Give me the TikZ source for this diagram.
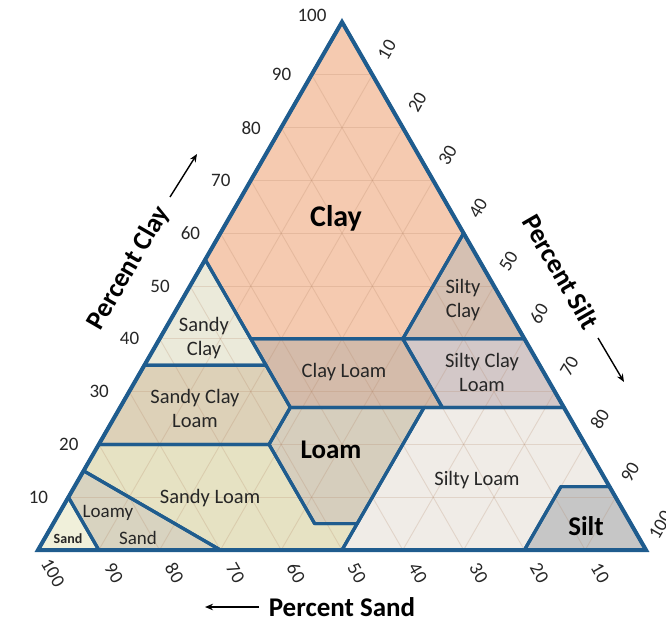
\documentclass[tikz,border=0pt]{standalone}
\usepackage{fontspec}
\setmainfont{Carlito}
\usetikzlibrary{arrows.meta}
\definecolor{bord}{HTML}{1F5C8E}
\definecolor{cClay}{HTML}{F5CAB0}
\definecolor{cSandyClay}{HTML}{EBEADA}
\definecolor{cSiltyClay}{HTML}{D5C0B2}
\definecolor{cClayLoam}{HTML}{D4BBAA}
\definecolor{cSiltyClayLoam}{HTML}{D3C8C8}
\definecolor{cSandyClayLoam}{HTML}{DDD1B8}
\definecolor{cLoam}{HTML}{D6CEBD}
\definecolor{cSandyLoam}{HTML}{E6E2C3}
\definecolor{cLoamySand}{HTML}{D8D3C0}
\definecolor{cSand}{HTML}{F0F0DA}
\definecolor{cSiltLoam}{HTML}{F0ECE7}
\definecolor{cSilt}{HTML}{C6C6C6}
\definecolor{gridc}{HTML}{B08060}
\definecolor{txt}{HTML}{262626}
\tikzset{
  bordline/.style={draw=bord, line width=3.2pt, line join=round},
  outerline/.style={draw=bord, line width=4pt, line join=miter},
  gridline/.style={draw=gridc, line width=0.9pt, opacity=0.22},
  num/.style={font=\fontsize{19}{21}\selectfont, text=txt, inner sep=0pt},
  axtitle/.style={font=\fontsize{27}{29}\selectfont\bfseries, text=black, inner sep=0pt},
  reg/.style={font=\fontsize{20.5}{24}\selectfont, text=txt, align=center, inner sep=0pt},
  regbig/.style={font=\fontsize{26}{28}\selectfont\bfseries, text=black, inner sep=0pt},
  axarrow/.style={-{Stealth[length=8pt,width=6.5pt]}, line width=1.4pt, black},
}
% region list: #1 is the command applied to {colour}{path}
\newcommand\soilregions[1]{%
  #1{cClay}{(0,100) -- (0,55) -- (15,40) -- (40,40) -- (40,60) -- cycle}%
  #1{cSandyClay}{(0,55) -- (0,35) -- (20,35) -- cycle}%
  #1{cSiltyClay}{(40,60) -- (60,40) -- (40,40) -- cycle}%
  #1{cClayLoam}{(15,40) -- (40,40) -- (53,27) -- (28,27) -- (20,35) -- cycle}%
  #1{cSiltyClayLoam}{(40,40) -- (60,40) -- (73,27) -- (53,27) -- cycle}%
  #1{cSandyClayLoam}{(0,35) -- (20,35) -- (28,27) -- (28,20) -- (0,20) -- cycle}%
  #1{cLoam}{(28,27) -- (50,27) -- (50,5) -- (43,5) -- (28,20) -- cycle}%
  #1{cSiltLoam}{(50,27) -- (73,27) -- (88,12) -- (80,12) -- (80,0) -- (50,0) -- (50,5) -- cycle}%
  #1{cSilt}{(80,12) -- (88,12) -- (100,0) -- (80,0) -- cycle}%
  #1{cSandyLoam}{(0,20) -- (28,20) -- (43,5) -- (50,5) -- (50,0) -- (30,0) -- (0,15) -- cycle}%
  #1{cLoamySand}{(0,15) -- (30,0) -- (10,0) -- (0,10) -- cycle}%
  #1{cSand}{(0,10) -- (10,0) -- (0,0) -- cycle}%
}
\newcommand\dofillregion[2]{\fill[#1] #2;}
\newcommand\dodrawregion[2]{\draw[bordline] #2;}
\begin{document}
\begin{tikzpicture}[x=1pt,y=1pt]
\useasboundingbox (0,0) rectangle (666,622);
% ternary scope: (silt, clay)
\begin{scope}[shift={(38pt,72pt)}, x={(6.08pt,0pt)}, y={(3.04pt,5.28pt)}]
  \soilregions\dofillregion
  \foreach \k in {10,20,...,90} {
    \draw[gridline] (0,\k) -- ({100-\k},\k);
    \draw[gridline] (\k,0) -- (\k,{100-\k});
    \draw[gridline] ({100-\k},0) -- (0,{100-\k});
  }
  \soilregions\dodrawregion
  \coordinate (A) at (0,0);
  \coordinate (B) at (100,0);
  \coordinate (C) at (0,100);
  \draw[outerline] (A) -- (B) -- (C) -- cycle;
\end{scope}
% clay axis numbers
\foreach \k in {1,...,9} {
  \node[num] (clay\k) at ({8+30.4*\k},{72+52.8*\k}) {\the\numexpr\k*10\relax};
}
\node[num] (clay10) at (312,607) {100};
% silt axis numbers
\foreach \k in {1,...,10} {
  \node[num, rotate=60] (silt\k) at ({356.5+30.4*\k},{625-52.8*\k}) {\the\numexpr\k*10\relax};
}
% sand axis numbers
\foreach \k in {1,...,10} {
  \node[num, rotate=-60] (sand\k) at ({661-60.8*\k},49) {\the\numexpr\k*10\relax};
}
% axis titles and arrows
\node[axtitle, rotate=60] (tclay) at (129,354) {Percent Clay};
\coordinate (ca1) at (170,425);
\coordinate (ca2) at (197,468);
\draw[axarrow] (ca1) -- (ca2);
\node[axtitle, rotate=-60] (tsilt) at (561,350) {Percent Silt};
\coordinate (sa1) at (598,284);
\coordinate (sa2) at (624,240);
\draw[axarrow] (sa1) -- (sa2);
\node[axtitle] (tsand) at (342,15) {Percent Sand};
\coordinate (da1) at (259,15);
\coordinate (da2) at (205,15);
\draw[axarrow] (da1) -- (da2);
% region labels
\node[regbig, font=\fontsize{30}{32}\selectfont\bfseries] (lclay) at (336,404) {Clay};
\node[reg] (lsandyclay) at (204,284) {Sandy\\Clay};
\node[reg] (lsiltyclay) at (463,322) {Silty\\Clay};
\node[reg] (lclayloam) at (344,250) {Clay Loam};
\node[reg] (lsiltyclayloam) at (482,250) {Silty Clay\\Loam};
\node[reg] (lsandyclayloam) at (195,214) {Sandy Clay\\Loam};
\node[regbig, font=\fontsize{27}{29}\selectfont\bfseries] (lloam) at (331,172) {Loam};
\node[reg] (lsiltloam) at (477,142) {Silty Loam};
\node[reg] (lsandyloam) at (210,124) {Sandy Loam};
\node[reg, font=\fontsize{19}{22}\selectfont] (lloamy) at (108,109) {Loamy};
\node[reg, font=\fontsize{19}{22}\selectfont] (lloamysand) at (138,84) {Sand};
\node[reg, font=\fontsize{14}{16}\selectfont\bfseries] (lsand) at (68,83) {Sand};
\node[regbig, font=\fontsize{27}{29}\selectfont\bfseries] (lsilt) at (586,96) {Silt};
\end{tikzpicture}
\end{document}
